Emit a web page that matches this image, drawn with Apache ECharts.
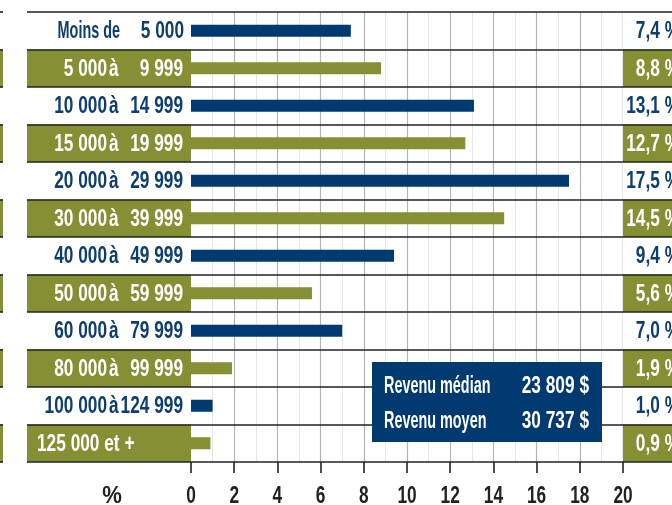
<!DOCTYPE html>
<html><head><meta charset="utf-8">
<script src="https://cdn.jsdelivr.net/npm/echarts@6/dist/echarts.min.js"></script>
<style>html,body{margin:0;padding:0;background:#fff}#c{width:672px;height:505px}</style>
</head><body><div id="c"></div>
<script>
// ---- data ----
const rangeLow  = ['Moins de','5 000','10 000','15 000','20 000','30 000','40 000','50 000','60 000','80 000','100 000','125 000 et +'];
const rangeHigh = ['5 000','9 999','14 999','19 999','29 999','39 999','49 999','59 999','79 999','99 999','124 999',''];
const shares    = [7.4, 8.8, 13.1, 12.7, 17.5, 14.5, 9.4, 5.6, 7.0, 1.9, 1.0, 0.9];
const shareLabels = ['7,4 %','8,8 %','13,1 %','12,7 %','17,5 %','14,5 %','9,4 %','5,6 %','7,0 %','1,9 %','1,0 %','0,9 %'];
const tickValues = [0, 2, 4, 6, 8, 10, 12, 14, 16, 18, 20];
const tickLabels = ['0','2','4','6','8','10','12','14','16','18','20'];
const axisUnit = '%';
const summaryLabels = ['Revenu médian','Revenu moyen'];
const summaryValues = ['23 809 $','30 737 $'];
const categories = rangeLow.map((l,i)=> rangeHigh[i] ? l + ' à ' + rangeHigh[i] : l);

// ---- style ----
const BLUE = '#003a70', GREEN = '#878f34', TXTBLUE = '#0e3d6f', LINE = '#222';
const FAM = "'Liberation Sans', Arimo, Arial, sans-serif";
const TOP = 12, H = 450;
const isGreen = i => i % 2 === 1;
const hasLetters = s => /[A-Za-zéè]/.test(s.replace(/et \+/, ''));
const sx = s => s === '%' ? 0.92 : (hasLetters(s) ? 0.6 : 0.72);   // condensed look

function txt(text, x, y, align, fill, z){
  return {type:'text', x:x, y:y, scaleX:sx(text), scaleY:1, z:z || 0,
    style:{text:text, x:0, y:0, align:align, verticalAlign:'middle', fill:fill,
      fontFamily:FAM, fontSize:24, fontWeight:'bold'}};
}

const chart = echarts.init(document.getElementById('c'), null, {renderer:'canvas'});

function catAxis(gi){
  return {type:'category', gridIndex:gi, data:categories, inverse:true, z:5,
    axisLine:{show:false}, axisTick:{show:false}, axisLabel:{show:false},
    splitLine:{show:true, lineStyle:{color:LINE, width:1.6}}};
}
function unitAxis(gi){
  return {type:'value', gridIndex:gi, min:0, max:1, show:false};
}
function cellData(){
  return categories.map((c,i)=>({value:1, itemStyle:{color: isGreen(i) ? GREEN : '#ffffff'}}));
}

const majorColors = tickValues.map(v => v === 0 ? 'rgba(0,0,0,0)' : (v === 20 ? LINE : '#b5b5b5'));

const option = {
  animation:false,
  grid:[
    {left:27, top:TOP, width:164, height:H},
    {left:191, top:TOP, width:432, height:H},
    {left:623, top:TOP, width:60, height:H},
    {left:0, top:TOP, width:3, height:H}
  ],
  xAxis:[
    unitAxis(0),
    {type:'value', gridIndex:1, min:0, max:20, interval:2,
      axisLine:{show:false},
      axisTick:{show:true, length:11, lineStyle:{color:LINE, width:1.6}},
      axisLabel:{show:false},
      splitLine:{show:true, lineStyle:{color:majorColors, width:1.2}},
      minorTick:{show:false, splitNumber:2},
      minorSplitLine:{show:true, lineStyle:{color:'#e6e6e6', width:1}}},
    unitAxis(2),
    unitAxis(3)
  ],
  yAxis:[catAxis(0), catAxis(1), catAxis(2), catAxis(3)],
  series:[
    // label column cells
    {type:'bar', xAxisIndex:0, yAxisIndex:0, barWidth:'100%', silent:true, data:cellData()},
    // label column text
    {type:'custom', xAxisIndex:0, yAxisIndex:0, silent:true, z:6,
      data:categories.map((c,i)=>[1, i]), encode:{x:0, y:1},
      renderItem:(params, api)=>{
        const i = api.value(1);
        const p = api.coord([1, i]);
        const xr = p[0], y = p[1] + 1;
        const fill = isGreen(i) ? '#fff' : TXTBLUE;
        const lo = rangeLow[i], hi = rangeHigh[i];
        const ch = [];
        if (!hi) {
          ch.push(txt(lo, xr - 154, y, 'left', fill));
        } else if (i === 0) {
          ch.push(txt(lo, xr - 71, y, 'right', fill));
          ch.push(txt(hi, xr - 7, y, 'right', fill));
        } else {
          ch.push(txt(lo, xr - 84, y, 'right', fill));
          ch.push(txt('à', xr - 82, y, 'left', fill));
          ch.push(txt(hi, xr - 8, y, 'right', fill));
        }
        return {type:'group', children:ch};
      }},
    // main bars
    {type:'bar', xAxisIndex:1, yAxisIndex:1, barWidth:12, silent:true,
      data:shares.map((v,i)=>({value:v, itemStyle:{color: isGreen(i) ? GREEN : BLUE}}))},
    // x tick labels
    {type:'custom', xAxisIndex:1, yAxisIndex:1, silent:true, z:6,
      data:tickValues.map(v=>[v, 0]), encode:{x:0, y:1},
      renderItem:(params, api)=>{
        const v = api.value(0);
        const p = api.coord([v, 0]);
        const cs = params.coordSys;
        const y = cs.y + cs.height + 34;
        const ch = [txt(tickLabels[params.dataIndex], p[0], y, 'center', '#222')];
        if (params.dataIndex === 0) ch.push(txt(axisUnit, p[0] - 79, y, 'center', '#222'));
        return {type:'group', children:ch};
      }},
    // value column cells
    {type:'bar', xAxisIndex:2, yAxisIndex:2, barWidth:'100%', silent:true, data:cellData()},
    // value column text
    {type:'custom', xAxisIndex:2, yAxisIndex:2, silent:true, z:6,
      data:categories.map((c,i)=>[0, i]), encode:{x:0, y:1},
      renderItem:(params, api)=>{
        const i = api.value(1);
        const p = api.coord([0, i]);
        return txt(shareLabels[i], p[0] + 57, p[1] + 1, 'right', isGreen(i) ? '#fff' : TXTBLUE);
      }},
    // far-left cut cells
    {type:'bar', xAxisIndex:3, yAxisIndex:3, barWidth:'100%', silent:true, data:cellData()}
  ],
  graphic:{elements:[
    {type:'rect', x:372, y:362, z:100, shape:{x:0, y:0, width:230, height:80}, style:{fill:BLUE}},
    txt(summaryLabels[0], 384, 386, 'left', '#fff', 101),
    txt(summaryValues[0], 589, 386, 'right', '#fff', 101),
    txt(summaryLabels[1], 384, 421, 'left', '#fff', 101),
    txt(summaryValues[1], 589, 421, 'right', '#fff', 101)
  ]}
};
chart.setOption(option);
</script></body></html>
